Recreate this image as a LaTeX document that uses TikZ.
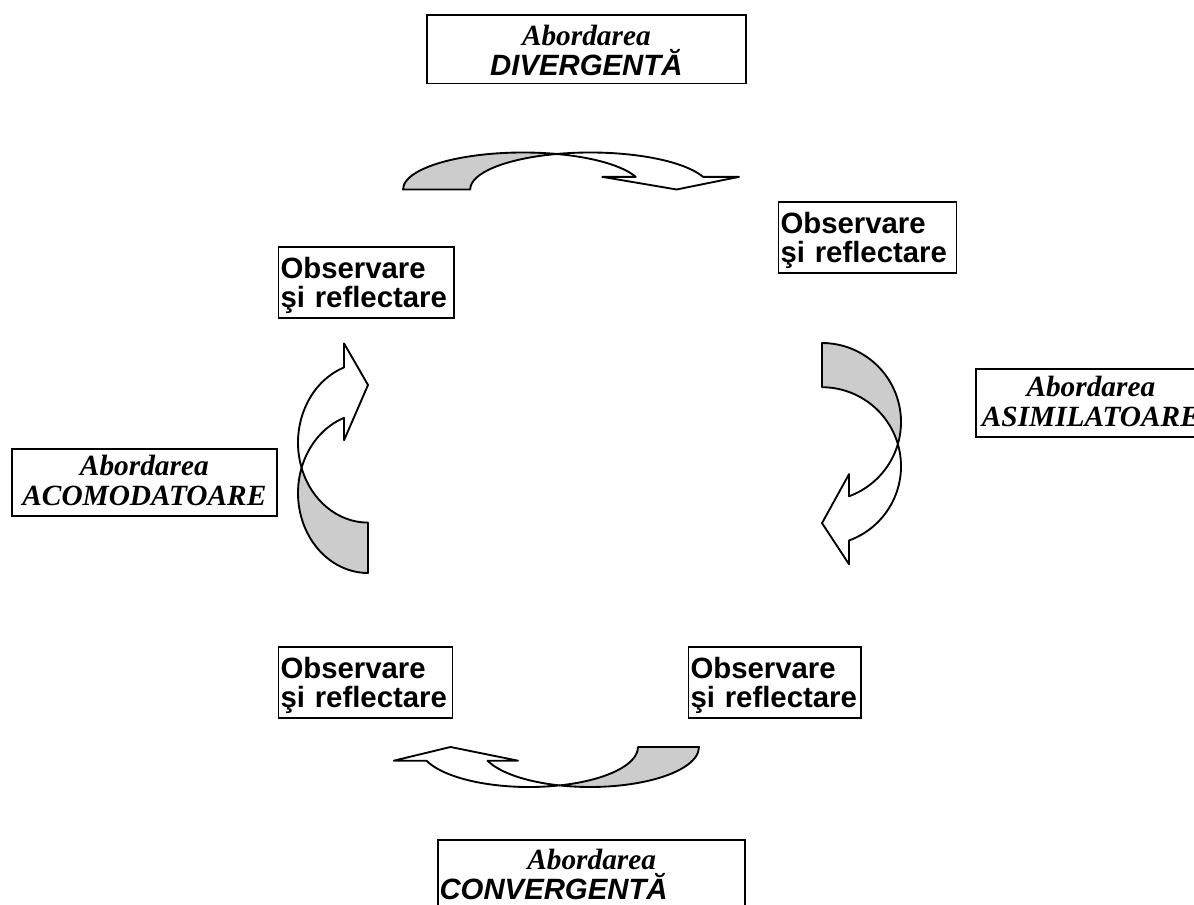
\documentclass[tikz,border=0pt]{standalone}
\usepackage{fontspec}
\setmainfont{Liberation Serif}
\newfontfamily\arialfont{Liberation Sans}
\definecolor{bandgray}{RGB}{204,204,204}

% two lines of a text box: top strut, first line, second line, bottom strut
\newcommand{\boxlines}[4]{\rule{0pt}{#1}#2\\#3\rule[-#4]{0pt}{#4}}

% bent arrow in a local frame: x along the base, y towards the bulge
\newcommand{\bentarrow}[1]{%
  \pgfmathsetmacro\crossang{acos(#1/2)}%
  \pgfmathsetmacro\backang{180-\crossang}%
  \draw[bandback] (0,0) arc[start angle=180, end angle=\crossang, radius=1]
    arc[start angle=\backang, end angle=180, radius=1] -- cycle;
  \draw[bandfront] (1.9397,0.342) arc[start angle=20, end angle=\crossang, radius=1]
    arc[start angle=\backang, end angle=20, radius=1]
    -- (2.24+#1,0.342) -- (1.72+#1,0) -- (1.66,0.342) -- cycle;
}

\begin{document}
\begin{tikzpicture}[x=0.75pt, y=-0.75pt,
    obsbox/.style={draw, line width=1.3pt, anchor=north west, inner xsep=1.5pt, inner ysep=0pt,
      text width=#1, align=left, font=\arialfont\bfseries\fontsize{22}{22}\selectfont},
    abbox/.style={draw, line width=1.3pt, anchor=north west, inner sep=0pt,
      text width=#1, align=center, font=\fontsize{22}{22.5}\selectfont\bfseries\itshape},
    bandback/.style={draw, fill=bandgray, line width=1.4pt, line join=round},
    bandfront/.style={draw, fill=white, line width=1.4pt, line join=round}]
\useasboundingbox (0,0) rectangle (1194,905);
\clip (0,0) rectangle (1194,905);

% approach boxes
\node[abbox=239.25pt] (divergent) at (426,14)
  {\boxlines{23.25pt}{Abordarea}{\arialfont DIVERGENTĂ}{5.8pt}};
\node[abbox=172.5pt] (assimil) at (975,368.3)
  {\boxlines{20.8pt}{Abordarea}{\fontsize{22}{23}\selectfont ASIMILATOARE}{7.7pt}};
\node[abbox=198.75pt] (accomod) at (11,448)
  {\boxlines{20.25pt}{Abordarea}{\fontsize{22}{23}\selectfont ACOMODATOARE}{7.7pt}};
\node[abbox=230.25pt] (convergent) at (437.3,839.3)
  {\rule{0pt}{21.75pt}Abordarea\\\hbox to\hsize{\rule[-7pt]{0pt}{7pt}\kern1pt\arialfont CONVERGENTĂ\hfil}};

% observation boxes
\node[obsbox=130.5pt] (obsTR) at (777.7,201) {\boxlines{23.5pt}{Observare}{şi reflectare}{8pt}};
\node[obsbox=128.7pt] (obsTL) at (277.7,246) {\boxlines{23.5pt}{Observare}{şi reflectare}{8pt}};
\node[obsbox=127.5pt] (obsBL) at (277.7,646) {\boxlines{23.5pt}{Observare}{şi reflectare}{8pt}};
\node[obsbox=126.2pt] (obsBR) at (687.7,646) {\boxlines{23.5pt}{Observare}{şi reflectare}{8pt}};

% bent arrows
\begin{scope}[shift={(403,189.5)}, x={(90pt,0pt)}, y={(0pt,27.75pt)}]
  \bentarrow{0.56}
\end{scope}
\begin{scope}[shift={(822,343)}, x={(0pt,-59.25pt)}, y={(59.25pt,0pt)}]
  \bentarrow{0.56}
\end{scope}
\begin{scope}[shift={(699,747)}, x={(-81.75pt,0pt)}, y={(0pt,-30pt)}]
  \bentarrow{0.56}
\end{scope}
\begin{scope}[shift={(368,573)}, x={(0pt,60pt)}, y={(-52.5pt,0pt)}]
  \bentarrow{0.63}
\end{scope}
\end{tikzpicture}
\end{document}
